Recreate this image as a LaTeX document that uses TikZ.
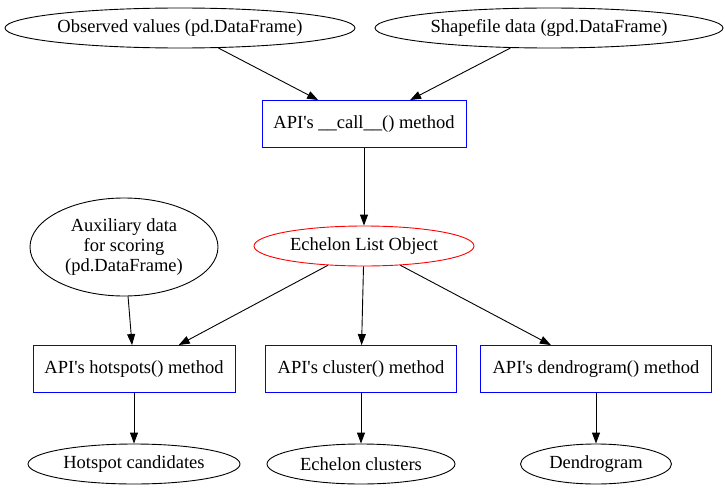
\documentclass[tikz,border=0pt]{standalone}
\usepackage{fontspec}
\setmainfont{Liberation Serif}
\usetikzlibrary{shapes.geometric,arrows.meta}
\tikzset{
  oval/.style={draw, ellipse, inner sep=0pt},
  method/.style={draw=blue, rectangle, minimum height=47pt},
  link/.style={-{Triangle[length=11pt,width=8pt]}}
}
\newcommand{\ap}{\textquotesingle}

\begin{document}
\begin{tikzpicture}[x=1pt,y=-1pt,line width=0.9pt,font=\fontsize{18.5}{20}\selectfont]
  \useasboundingbox (0,0) rectangle (725,495);
  % inputs
  \node[oval, minimum width=350pt, minimum height=40pt] (obs) at (180,28) {Observed values (pd.DataFrame)};
  \node[oval, minimum width=348pt, minimum height=40pt] (shp) at (549,28) {Shapefile data (gpd.DataFrame)};
  \node[method, minimum width=204pt] (call) at (364,124) {API\ap s \_\_call\_\_() method};
  \node[oval, draw=red, minimum width=220pt, minimum height=40pt] (ech) at (364,246) {Echelon List Object};
  \node[oval, minimum width=188pt, minimum height=98pt, align=center] (aux) at (124,247) {Auxiliary data\\for scoring\\(pd.DataFrame)};
  % methods
  \node[method, minimum width=202pt] (hot) at (134,369) {API\ap s hotspots() method};
  \node[method, minimum width=191pt] (clu) at (361,369) {API\ap s cluster() method};
  \node[method, minimum width=231pt] (den) at (596,369) {API\ap s dendrogram() method};
  % outputs
  \node[oval, minimum width=212pt, minimum height=40pt] (hotout) at (134,464) {Hotspot candidates};
  \node[oval, minimum width=188pt, minimum height=40pt] (cluout) at (361,464) {Echelon clusters};
  \node[oval, minimum width=151pt, minimum height=40pt] (denout) at (596,464) {Dendrogram};
  % edges
  \draw[link] (obs) -- (call);
  \draw[link] (shp) -- (call);
  \draw[link] (call) -- (ech);
  \draw[link] (ech) -- (hot);
  \draw[link] (ech) -- (clu);
  \draw[link] (ech) -- (den);
  \draw[link] (aux) -- (hot);
  \draw[link] (hot) -- (hotout);
  \draw[link] (clu) -- (cluout);
  \draw[link] (den) -- (denout);
\end{tikzpicture}
\end{document}
